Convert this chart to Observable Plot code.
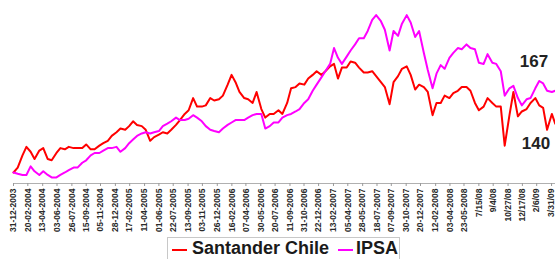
<!DOCTYPE html>
<html><head><meta charset="utf-8">
<script src="https://cdn.jsdelivr.net/npm/d3@7"></script>
<script src="https://cdn.jsdelivr.net/npm/@observablehq/plot@0.6"></script>
<style>
body{margin:0;background:#fff;font-family:"Liberation Sans",Arial,sans-serif;}
#wrap{position:relative;width:555px;height:259px;overflow:hidden;background:#fff;}
#wrap svg{position:absolute;left:0;top:0;}
#legend{position:absolute;left:167px;top:237px;width:233px;height:34px;border:1px solid #c8c8c8;box-sizing:border-box;font-weight:bold;font-size:18px;line-height:21px;color:#1a1a1a;display:flex;padding:0 0 0 4px;align-items:flex-start;}
#legend .sw{display:inline-block;width:15px;height:2px;margin-top:11px;}
#legend .lab{margin-left:5px;}
</style>
</head><body>
<div id="wrap"><div id="legend"></div></div>
<script>
const seriesNames = ["Santander Chile", "IPSA"];
const seriesColors = ["#ff0000", "#ff00ff"];

const dates = [
"2003-12-31","2004-01-15",
"2004-02-01","2004-02-15","2004-03-01","2004-03-15","2004-04-01","2004-04-15","2004-05-01","2004-05-15","2004-06-01","2004-06-15","2004-07-01","2004-07-15","2004-08-01","2004-08-15","2004-09-01","2004-09-15","2004-10-01","2004-10-15","2004-11-01","2004-11-15","2004-12-01","2004-12-15",
"2005-01-01","2005-01-15","2005-02-01","2005-02-15","2005-03-01","2005-03-15","2005-04-01","2005-04-15","2005-05-01","2005-05-15","2005-06-01","2005-06-15","2005-07-01","2005-07-15","2005-08-01","2005-08-15","2005-09-01","2005-09-15","2005-10-01","2005-10-15","2005-11-01","2005-11-15","2005-12-01","2005-12-15",
"2006-01-01","2006-01-15","2006-02-01","2006-02-15","2006-03-01","2006-03-15","2006-04-01","2006-04-15","2006-05-01","2006-05-15","2006-06-01","2006-06-15","2006-07-01","2006-07-15","2006-08-01","2006-08-15","2006-09-01","2006-09-15","2006-10-01","2006-10-15","2006-11-01","2006-11-15","2006-12-01","2006-12-15",
"2007-01-01","2007-01-15","2007-02-01","2007-02-15","2007-03-01","2007-03-15","2007-04-01","2007-04-15","2007-05-01","2007-05-15","2007-06-01","2007-06-15","2007-07-01","2007-07-15","2007-08-01","2007-08-15","2007-09-01","2007-09-15","2007-10-01","2007-10-15","2007-11-01","2007-11-15","2007-12-01","2007-12-15",
"2008-01-01","2008-01-15","2008-02-01","2008-02-15","2008-03-01","2008-03-15","2008-04-01","2008-04-15","2008-05-01","2008-05-15","2008-06-01","2008-06-15","2008-07-01","2008-07-15","2008-08-01","2008-08-15","2008-09-01","2008-09-15","2008-10-01","2008-10-15","2008-11-01","2008-11-15","2008-12-01","2008-12-15",
"2009-01-01","2009-01-15","2009-02-01","2009-02-15","2009-03-01","2009-03-15","2009-04-01","2009-04-13"
];

const santander = [
100,104, 114,121, 117,111, 118,120, 111,110, 116,120, 119,121, 120,120, 120,123, 119,119, 122,124, 126,130,
133,136, 135,138, 142,139, 138,135, 126,129, 131,133, 132,135, 139,143, 148,151, 161,154, 154,155, 161,159,
160,163, 172,180, 174,166, 161,160, 157,166, 152,145, 148,148, 151,148, 157,169, 170,173, 172,177, 180,183,
180,183, 187,189, 177,186, 186,191, 190,186, 182,182, 183,179, 174,170, 156,174, 179,185, 187,180, 168,172,
170,166, 147,157, 157,163, 161,165, 167,170, 170,167, 157,151, 154,161, 157,154, 154,122, 147,166, 146,150,
152,157, 161,155, 153,135, 148,140
];

const ipsa = [
100,99, 98,98, 105,101, 98,101, 98,96, 96,98, 100,102, 104,104, 108,110, 114,116, 116,118, 120,120,
121,117, 120,124, 127,130, 132,133, 132,133, 134,138, 140,142, 145,143, 143,144, 147,145, 142,138, 135,134,
133,136, 139,141, 143,143, 143,145, 147,148, 148,136, 138,141, 141,145, 147,148, 150,152, 157,160, 167,172,
178,183, 189,202, 194,189, 195,200, 205,210, 210,216, 225,229, 224,217, 200,216, 212,222, 229,223, 211,216,
198,184, 169,181, 188,185, 194,198, 202,201, 205,202, 201,190, 189,197, 190,189, 183,163, 169,171, 161,155,
160,161, 169,175, 173,167, 166,167
];

const tickDates = ["2003-12-31","2004-02-20","2004-04-13","2004-06-03","2004-07-26","2004-09-15","2004-11-05","2004-12-28","2005-02-17","2005-04-11","2005-06-01","2005-07-22","2005-09-13","2005-11-03","2005-12-26","2006-02-16","2006-04-07","2006-05-30","2006-07-20","2006-09-11","2006-10-31","2006-12-22","2007-02-13","2007-04-05","2007-05-28","2007-07-18","2007-09-07","2007-10-30","2007-12-20","2008-02-12","2008-04-03","2008-05-23","2008-07-15","2008-09-04","2008-10-27","2008-12-17","2009-02-06","2009-03-31"];
const tickLabels = ["31-12-2003","20-02-2004","13-04-2004","03-06-2004","26-07-2004","15-09-2004","05-11-2004","28-12-2004","17-02-2005","11-04-2005","01-06-2005","22-07-2005","13-09-2005","03-11-2005","26-12-2005","16-02-2006","07-04-2006","30-05-2006","20-07-2006","11-09-2006","31-10-2006","22-12-2006","13-02-2007","05-04-2007","28-05-2007","18-07-2007","07-09-2007","30-10-2007","20-12-2007","12-02-2008","03-04-2008","23-05-2008","7/15/08","9/4/08","10/27/08","12/17/08","2/6/09","3/31/09"];

const parse = d3.utcParse("%Y-%m-%d");
const rows = [];
dates.forEach((d, i) => {
  rows.push({date: parse(d), value: santander[i], series: seriesNames[0]});
});
dates.forEach((d, i) => {
  rows.push({date: parse(d), value: ipsa[i], series: seriesNames[1]});
});
const ticks = tickDates.map(parse);
const labelMap = new Map(ticks.map((t, i) => [+t, tickLabels[i]]));
const lastDate = parse(dates[dates.length - 1]);
const endSant = [{date: lastDate, value: santander[santander.length - 1]}];
const endIpsa = [{date: lastDate, value: ipsa[ipsa.length - 1]}];

const chart = Plot.plot({
  width: 555, height: 237,
  marginLeft: 13, marginRight: 0, marginTop: 0, marginBottom: 54,
  style: {fontFamily: '"Liberation Sans", Arial, sans-serif', background: "#fff", overflow: "visible"},
  x: {type: "utc", domain: [parse("2003-12-31"), parse("2009-04-14")]},
  y: {domain: [90.98, 240.98], axis: null},
  color: {domain: seriesNames, range: seriesColors},
  marks: [
    Plot.ruleY([90.98], {stroke: "#b0b0b0", strokeWidth: 1}),
    Plot.axisX({ticks: ticks, tickFormat: d => labelMap.get(+d), tickRotate: -90, tickSize: 3, tickPadding: 2,
      stroke: "#9a9a9a", fill: "#2a2a2a", fontSize: 8.5, fontWeight: "bold", label: null}),
    Plot.line(rows, {x: "date", y: "value", z: "series", stroke: "series", strokeWidth: 2, curve: "linear"}),
    Plot.text(endIpsa, {x: "date", y: "value", text: d => String(d.value), textAnchor: "end", dx: -7, dy: -29,
      fontSize: 17, fontWeight: "bold", fill: "#222"}),
    Plot.text(endSant, {x: "date", y: "value", text: d => String(d.value), textAnchor: "end", dx: -5, dy: 20,
      fontSize: 17, fontWeight: "bold", fill: "#222"})
  ]
});
document.getElementById("wrap").prepend(chart);

const legend = document.getElementById("legend");
seriesNames.forEach((n, i) => {
  const sw = document.createElement("span");
  sw.className = "sw";
  sw.style.background = seriesColors[i];
  if (i > 0) sw.style.marginLeft = "9px";
  const lab = document.createElement("span");
  lab.className = "lab";
  if (i > 0) lab.style.marginLeft = "3px";
  lab.textContent = n;
  legend.appendChild(sw);
  legend.appendChild(lab);
});
</script>
</body></html>
